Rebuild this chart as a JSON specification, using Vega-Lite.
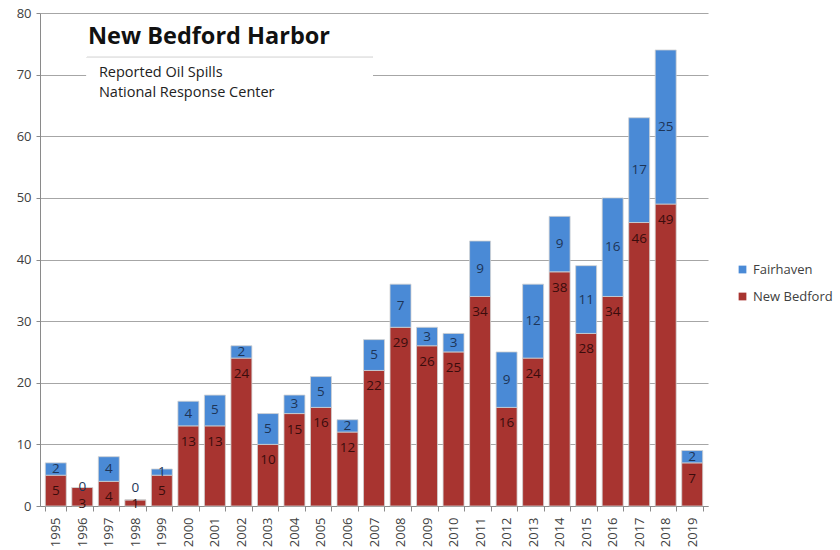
{
  "$schema": "https://vega.github.io/schema/vega-lite/v6.json",
  "autosize": "none",
  "width": 668,
  "height": 493,
  "padding": {"left": 40, "top": 13, "right": 132, "bottom": 44},
  "background": "white",
  "config": {
    "view": {"stroke": null},
    "font": "Open Sans",
    "axis": {"labelFont": "Open Sans", "labelColor": "#404040", "domainColor": "#8a8a8a", "tickColor": "#8a8a8a", "gridColor": "#a6a6a6"},
    "legend": {"labelFont": "Open Sans"}
  },
  "title": {
    "text": "New Bedford Harbor",
    "anchor": "start",
    "frame": "group",
    "dx": 48,
    "offset": -41,
    "font": "Open Sans",
    "fontSize": 23.5,
    "fontWeight": "bold",
    "color": "#111111"
  },
  "data": {
    "values": [
      {"year": "1995", "nb": 5, "fh": 2},
      {"year": "1996", "nb": 3, "fh": 0},
      {"year": "1997", "nb": 4, "fh": 4},
      {"year": "1998", "nb": 1, "fh": 0},
      {"year": "1999", "nb": 5, "fh": 1},
      {"year": "2000", "nb": 13, "fh": 4},
      {"year": "2001", "nb": 13, "fh": 5},
      {"year": "2002", "nb": 24, "fh": 2},
      {"year": "2003", "nb": 10, "fh": 5},
      {"year": "2004", "nb": 15, "fh": 3},
      {"year": "2005", "nb": 16, "fh": 5},
      {"year": "2006", "nb": 12, "fh": 2},
      {"year": "2007", "nb": 22, "fh": 5},
      {"year": "2008", "nb": 29, "fh": 7},
      {"year": "2009", "nb": 26, "fh": 3},
      {"year": "2010", "nb": 25, "fh": 3},
      {"year": "2011", "nb": 34, "fh": 9},
      {"year": "2012", "nb": 16, "fh": 9},
      {"year": "2013", "nb": 24, "fh": 12},
      {"year": "2014", "nb": 38, "fh": 9},
      {"year": "2015", "nb": 28, "fh": 11},
      {"year": "2016", "nb": 34, "fh": 16},
      {"year": "2017", "nb": 46, "fh": 17},
      {"year": "2018", "nb": 49, "fh": 25},
      {"year": "2019", "nb": 7, "fh": 2}
    ]
  },
  "encoding": {
    "x": {
      "field": "year",
      "type": "nominal",
      "scale": {"paddingInner": 0.21, "paddingOuter": 0.2},
      "axis": {"title": null, "labelAngle": -90, "labelFontSize": 13, "labelPadding": 6, "tickBand": "extent", "tickSize": 5, "domainColor": "#8a8a8a"}
    }
  },
  "layer": [
    {
      "transform": [
        {"fold": ["nb", "fh"], "as": ["key", "count"]},
        {"calculate": "datum.key == 'nb' ? 'New Bedford' : 'Fairhaven'", "as": "series"}
      ],
      "mark": {"type": "bar", "stroke": "#d0d0d0", "strokeWidth": 0.8},
      "encoding": {
        "y": {
          "field": "count",
          "type": "quantitative",
          "stack": "zero",
          "scale": {"domain": [0, 80]},
          "axis": {"title": null, "values": [0, 10, 20, 30, 40, 50, 60, 70, 80], "labelFontSize": 13, "tickSize": 4, "labelPadding": 5, "grid": true, "gridWidth": 1.2}
        },
        "color": {
          "field": "series",
          "type": "nominal",
          "scale": {"domain": ["Fairhaven", "New Bedford"], "range": ["#4a8ad6", "#a83430"]},
          "legend": {"title": null, "orient": "none", "legendX": 696, "legendY": 250, "symbolType": "square", "symbolSize": 60, "symbolStrokeWidth": 0, "labelFontSize": 13, "labelColor": "#404040", "rowPadding": 13, "labelOffset": 4}
        },
        "order": {"field": "series", "sort": "descending"}
      }
    },
    {
      "mark": {"type": "rect", "fill": "white"},
      "encoding": {
        "x": {"datum": "1996", "bandPosition": 0.72},
        "x2": {"datum": "2007", "bandPosition": 0.45},
        "y": {"datum": 64.5},
        "y2": {"datum": 72.8}
      }
    },
    {
      "mark": {"type": "rule", "color": "#e6e6e6", "strokeWidth": 1},
      "encoding": {
        "x": {"datum": "1996", "bandPosition": 0.72},
        "x2": {"datum": "2007", "bandPosition": 0.45},
        "y": {"datum": 72.8}
      }
    },
    {
      "data": {"values": [{"line": "Reported Oil Spills", "pos": 70.2}, {"line": "National Response Center", "pos": 67.0}]},
      "mark": {"type": "text", "align": "left", "baseline": "middle", "fontSize": 14.5, "color": "#222222", "dx": 12},
      "encoding": {
        "x": {"datum": "1996", "bandPosition": 0.72},
        "y": {"field": "pos", "type": "quantitative"},
        "text": {"field": "line"}
      }
    },
    {
      "transform": [{"calculate": "max(datum.nb - 2.6, 0.3)", "as": "nbpos"}],
      "mark": {"type": "text", "baseline": "middle", "fontSize": 13.5, "color": "#3a0c0c"},
      "encoding": {
        "y": {"field": "nbpos", "type": "quantitative"},
        "text": {"field": "nb", "type": "quantitative"}
      }
    },
    {
      "transform": [{"calculate": "max(datum.nb + datum.fh / 2, max(datum.nb - 2.6, 0.3) + 2.7)", "as": "fhpos"}],
      "mark": {"type": "text", "baseline": "middle", "fontSize": 13.5, "color": "#1d3558"},
      "encoding": {
        "y": {"field": "fhpos", "type": "quantitative"},
        "text": {"field": "fh", "type": "quantitative"}
      }
    }
  ]
}
